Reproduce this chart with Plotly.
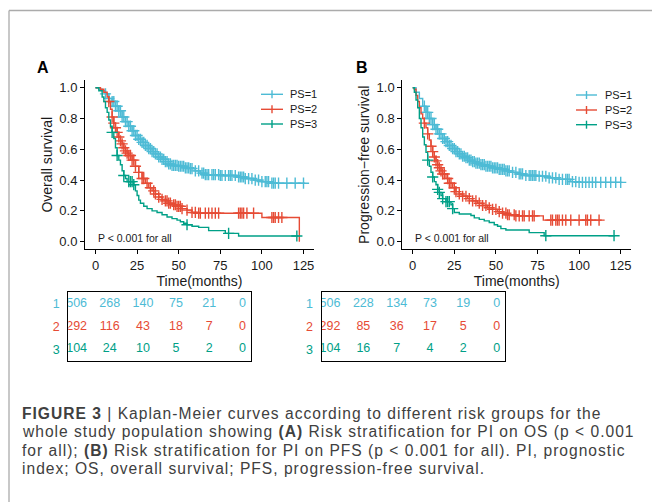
import numpy as np
import plotly.graph_objects as go

W, H = 652, 502
FONT = "Liberation Sans, Arial, sans-serif"

groups = ["PS=1", "PS=2", "PS=3"]
colors = ["#4DBBD5", "#E64B35", "#00A087"]

# ---- Panel A: overall survival (step breakpoints) ----
osA1_t = [0, 2, 4, 6, 8, 10, 12, 14, 16, 18, 20, 22, 24, 26, 28, 30, 32, 34, 36, 38, 40, 42, 44, 46, 50, 54, 57, 60, 63, 66, 75, 85, 90, 95, 100, 105, 126]
osA1_s = [1.0, 0.99, 0.98, 0.96, 0.93, 0.91, 0.88, 0.85, 0.81, 0.78, 0.75, 0.72, 0.69, 0.665, 0.645, 0.625, 0.605, 0.585, 0.57, 0.55, 0.535, 0.52, 0.505, 0.495, 0.49, 0.48, 0.475, 0.46, 0.445, 0.435, 0.43, 0.42, 0.41, 0.40, 0.39, 0.38, 0.38]
osA2_t = [0, 3, 5, 7, 8, 9, 10, 11, 12, 13, 14, 15, 16, 17, 18, 19, 20, 22, 24, 26, 28, 30, 32, 34, 36, 38, 40, 42, 44, 46, 49, 52, 55, 58, 62, 100, 122.5]
osA2_s = [1.0, 0.99, 0.97, 0.94, 0.91, 0.86, 0.81, 0.77, 0.74, 0.71, 0.68, 0.655, 0.635, 0.61, 0.59, 0.575, 0.56, 0.53, 0.49, 0.45, 0.41, 0.38, 0.35, 0.33, 0.31, 0.29, 0.275, 0.265, 0.25, 0.24, 0.23, 0.215, 0.205, 0.19, 0.185, 0.157, 0.0]
osA3_t = [0, 2, 4, 5, 6, 7, 8, 9, 10, 11, 12, 13, 14, 15, 16, 17, 18, 19, 23, 24, 25, 26, 27, 29, 31, 34, 37, 40, 43, 46, 49, 51, 53, 55, 58, 62, 68, 78, 86, 122]
osA3_s = [1.0, 0.98, 0.94, 0.91, 0.87, 0.84, 0.79, 0.75, 0.71, 0.67, 0.61, 0.56, 0.53, 0.50, 0.46, 0.43, 0.41, 0.39, 0.37, 0.33, 0.30, 0.27, 0.25, 0.23, 0.215, 0.20, 0.19, 0.175, 0.16, 0.15, 0.14, 0.13, 0.12, 0.11, 0.10, 0.093, 0.072, 0.054, 0.037, 0.037]

osA1_cens = [6, 8, 10, 11, 12, 13, 14, 15, 16, 17, 18, 19, 20, 21, 22, 23, 24, 25, 26, 27, 28, 29, 30, 31, 32, 33, 34, 35, 36, 37, 38, 39, 40, 41, 42, 43, 44, 45, 46, 47, 48, 49, 50, 51, 52, 53, 54, 55, 56, 57, 58, 60, 62, 64, 65, 66, 67, 68, 70, 71, 72, 74, 75, 76, 78, 80, 81, 82, 84, 86, 87, 88, 89, 90, 92, 94, 96, 98, 100, 102, 103, 104, 106, 107, 108, 110, 115, 120, 125]
osA2_cens = [8, 10, 11, 12, 13, 14, 15, 16, 17, 18, 19, 20, 21, 22, 23, 24, 26, 28, 29, 31, 33, 35, 36, 38, 40, 42, 43, 44, 45, 47, 48, 49, 50, 51, 52, 55, 58, 60, 62, 63, 66, 68, 70, 72, 74, 86, 87, 88, 89, 91, 95, 106, 107, 108, 110, 112]
osA3_cens = [10, 13, 17, 20, 21, 22, 23, 55, 80, 121]

# ---- Panel B: progression-free survival ----
pfsB1_t = [0, 2, 4, 6, 8, 10, 12, 14, 16, 18, 20, 22, 24, 26, 28, 30, 32, 34, 36, 38, 41, 44, 48, 52, 56, 60, 64, 68, 75, 82, 88, 95, 100, 126]
pfsB1_s = [1.0, 0.97, 0.93, 0.88, 0.84, 0.80, 0.76, 0.73, 0.70, 0.67, 0.65, 0.625, 0.605, 0.585, 0.57, 0.555, 0.545, 0.53, 0.52, 0.51, 0.50, 0.49, 0.48, 0.47, 0.46, 0.45, 0.44, 0.43, 0.425, 0.415, 0.405, 0.39, 0.385, 0.385]
pfsB2_t = [0, 1, 2, 3, 4, 5, 6, 7, 8, 9, 10, 11, 12, 13, 14, 15, 16, 17, 18, 20, 22, 24, 26, 28, 30, 33, 36, 39, 42, 45, 48, 51, 54, 57, 62, 78.5, 113.6]
pfsB2_s = [1.0, 0.99, 0.95, 0.91, 0.87, 0.83, 0.80, 0.77, 0.74, 0.70, 0.66, 0.62, 0.585, 0.55, 0.525, 0.50, 0.48, 0.46, 0.44, 0.41, 0.38, 0.35, 0.325, 0.31, 0.295, 0.28, 0.265, 0.25, 0.235, 0.22, 0.21, 0.195, 0.185, 0.175, 0.168, 0.14, 0.14]
pfsB3_t = [0, 1, 2, 3, 4, 5, 6, 7, 8, 9, 10, 11, 12, 13, 14, 15, 16, 17, 18, 20, 23, 24, 25, 28, 35, 37, 40, 43, 46, 49, 51, 53, 56, 70, 79, 121.6]
pfsB3_s = [1.0, 0.97, 0.92, 0.87, 0.80, 0.74, 0.68, 0.63, 0.58, 0.53, 0.49, 0.45, 0.42, 0.39, 0.37, 0.34, 0.32, 0.30, 0.28, 0.26, 0.24, 0.215, 0.19, 0.18, 0.17, 0.155, 0.145, 0.135, 0.125, 0.11, 0.10, 0.085, 0.076, 0.059, 0.039, 0.039]

pfsB1_cens = [7, 8, 9, 10, 11, 12, 13, 14, 15, 16, 17, 18, 19, 20, 21, 22, 23, 24, 25, 26, 27, 28, 29, 30, 31, 32, 33, 34, 35, 36, 37, 38, 39, 40, 41, 42, 43, 44, 45, 46, 47, 48, 49, 50, 51, 52, 53, 54, 55, 56, 57, 58, 60, 62, 64, 65, 66, 68, 70, 71, 72, 73, 74, 76, 78, 80, 82, 84, 86, 88, 90, 92, 93, 94, 96, 98, 100, 102, 104, 106, 108, 110, 113, 116, 119, 122, 125]
pfsB2_cens = [7, 9, 11, 12, 13, 14, 15, 16, 17, 18, 19, 21, 22, 23, 25, 26, 28, 30, 32, 34, 36, 38, 40, 42, 44, 46, 48, 50, 52, 54, 56, 57, 58, 61, 62, 64, 66, 67, 70, 72, 73, 83, 84, 86, 87, 88, 90, 92, 95, 100, 104, 105, 107, 112]
pfsB3_cens = [9, 12, 15, 16, 18, 20, 21, 22, 24, 80, 121]

# ---- Risk tables ----
risk_times = [0, 25, 50, 75, 100, 125]
riskA = [[506, 268, 140, 75, 21, 0], [292, 116, 43, 18, 7, 0], [104, 24, 10, 5, 2, 0]]
riskB = [[506, 228, 134, 73, 19, 0], [292, 85, 36, 17, 5, 0], [104, 16, 7, 4, 2, 0]]
row_labels = ["1", "2", "3"]

x_ticks = [0, 25, 50, 75, 100, 125]
y_ticks = [0.0, 0.2, 0.4, 0.6, 0.8, 1.0]


def px(x):
    return x / W


def py(y):
    return 1 - y / H


def step_at(ts, ss, c):
    i = np.searchsorted(np.array(ts), c, side="right") - 1
    return ss[max(i, 0)]


fig = go.Figure()

panels = [
    ("x", "y", [(osA1_t, osA1_s, osA1_cens), (osA2_t, osA2_s, osA2_cens), (osA3_t, osA3_s, osA3_cens)]),
    ("x2", "y2", [(pfsB1_t, pfsB1_s, pfsB1_cens), (pfsB2_t, pfsB2_s, pfsB2_cens), (pfsB3_t, pfsB3_s, pfsB3_cens)]),
]
for xa, ya, series in panels:
    for k, (ts, ss, cens) in enumerate(series):
        fig.add_trace(go.Scatter(x=ts, y=ss, mode="lines", line=dict(color=colors[k], width=1.4, shape="hv"),
                                 xaxis=xa, yaxis=ya, showlegend=False, hoverinfo="skip"))
        cy = [step_at(ts, ss, c) for c in cens]
        fig.add_trace(go.Scatter(x=cens, y=cy, mode="markers",
                                 marker=dict(symbol="cross-thin", size=8, color=colors[k],
                                             line=dict(color=colors[k], width=1.4)),
                                 xaxis=xa, yaxis=ya, showlegend=False, hoverinfo="skip", cliponaxis=False))

# risk table text traces
for xa, ya, table in [("x3", "y3", riskA), ("x4", "y4", riskB)]:
    for k, row in enumerate(table):
        fig.add_trace(go.Scatter(x=risk_times, y=[k + 1] * len(risk_times), mode="text",
                                 text=[str(v) for v in row],
                                 textfont=dict(family=FONT, size=12.5, color=colors[k]),
                                 xaxis=xa, yaxis=ya, showlegend=False, hoverinfo="skip"))

# geometry (pixels)
A_x0, A_x1 = 85.1, 313.9
B_x0, B_x1 = 402.3, 631.1
P_y0, P_y1 = 80.0, 249.4
TA_x0, TA_x1 = 68.3, 250.7
TB_x0, TB_x1 = 321.7, 505.0
T_y0, T_y1 = 292.3, 360.7

tickfont = dict(family=FONT, size=13, color="#1a1a1a")
titlefont = dict(family=FONT, size=14, color="#1a1a1a")

def plot_x(dom, anchor):
    return dict(domain=[px(dom[0]), px(dom[1])], range=[-6.25, 131.25], tickvals=x_ticks,
                showline=True, linecolor="black", linewidth=1.1, ticks="outside", ticklen=4,
                tickwidth=1.1, tickcolor="black", showgrid=False, zeroline=False, tickfont=tickfont,
                title=dict(text="Time(months)", font=titlefont, standoff=3), anchor=anchor)

def plot_y(title, anchor):
    return dict(domain=[py(P_y1), py(P_y0)], range=[-0.05, 1.05], tickvals=y_ticks,
                ticktext=[f"{v:.1f}" for v in y_ticks],
                showline=True, linecolor="black", linewidth=1.1, ticks="outside", ticklen=4,
                tickwidth=1.1, tickcolor="black", showgrid=False, zeroline=False, tickfont=tickfont,
                title=dict(text=title, font=titlefont, standoff=3), anchor=anchor)

def table_x(dom, anchor):
    return dict(domain=[px(dom[0]), px(dom[1])], range=[-6.25, 131.25], showline=True, mirror=True,
                linecolor="black", linewidth=1.3, showticklabels=False, ticks="", showgrid=False,
                zeroline=False, anchor=anchor)

def table_y(anchor):
    return dict(domain=[py(T_y1), py(T_y0)], range=[3.5, 0.5], tickvals=[1, 2, 3],
                ticktext=[f"<span style='color:{colors[i]}'>{row_labels[i]}</span>" for i in range(3)],
                showline=True, mirror=True, linecolor="black", linewidth=1.3, ticks="",
                showgrid=False, zeroline=False, tickfont=dict(family=FONT, size=12.5, color="#333"),
                anchor=anchor, ticklabelstandoff=5)

fig.update_layout(
    width=W, height=H, margin=dict(l=0, r=0, t=0, b=0),
    paper_bgcolor="white", plot_bgcolor="white", showlegend=False,
    xaxis=plot_x((A_x0, A_x1), "y"), yaxis=plot_y("Overall survival", "x"),
    xaxis2=plot_x((B_x0, B_x1), "y2"), yaxis2=plot_y("Progression\u2212free survival", "x2"),
    xaxis3=table_x((TA_x0, TA_x1), "y3"), yaxis3=table_y("x3"),
    xaxis4=table_x((TB_x0, TB_x1), "y4"), yaxis4=table_y("x4"),
)

shapes = []
ann = []
# frame lines
shapes.append(dict(type="line", xref="paper", yref="paper", x0=px(9), x1=px(W), y0=py(10.5), y1=py(10.5),
                   line=dict(color="#ababab", width=1.3)))
shapes.append(dict(type="line", xref="paper", yref="paper", x0=px(9), x1=px(9), y0=py(10.5), y1=py(H),
                   line=dict(color="#ababab", width=1.3)))

# legends
for lx0, lx1, ltx, ly in [(261, 283, 288, [94.3, 109.3, 124.0]), (576, 597, 603, [95.0, 110.0, 124.7])]:
    for k in range(3):
        shapes.append(dict(type="line", xref="paper", yref="paper", x0=px(lx0), x1=px(lx1),
                           y0=py(ly[k]), y1=py(ly[k]), line=dict(color=colors[k], width=1.4)))
        xm = (lx0 + lx1) / 2
        shapes.append(dict(type="line", xref="paper", yref="paper", x0=px(xm), x1=px(xm),
                           y0=py(ly[k] - 4), y1=py(ly[k] + 4), line=dict(color=colors[k], width=1.4)))
        ann.append(dict(text=groups[k], xref="paper", yref="paper", x=px(ltx), y=py(ly[k]),
                        xanchor="left", yanchor="middle", showarrow=False,
                        font=dict(family=FONT, size=11, color="#1a1a1a")))

# p-value notes
for xr, yr in [("x", "y"), ("x2", "y2")]:
    ann.append(dict(text="P < 0.001 for all", xref=xr, yref=yr, x=0, y=0.024, xanchor="left",
                    yanchor="middle", showarrow=False, font=dict(family=FONT, size=10.5, color="#1a1a1a")))

# panel letters
for lab, lx in [("A", 43), ("B", 362)]:
    ann.append(dict(text=f"<b>{lab}</b>", xref="paper", yref="paper", x=px(lx), y=py(67.5),
                    xanchor="center", yanchor="middle", showarrow=False,
                    font=dict(family=FONT, size=16, color="black")))

# caption
cap_lines = [
    "<b>FIGURE 3</b> | Kaplan-Meier curves according to different risk groups for the",
    "whole study population showing <b>(A)</b> Risk stratification for PI on OS (p &lt; 0.001",
    "for all); <b>(B)</b> Risk stratification for PI on PFS (p &lt; 0.001 for all). PI, prognostic",
    "index; OS, overall survival; PFS, progression-free survival.",
]
cap_y = [413.5, 431.8, 450.0, 468.2]
for t, yy in zip(cap_lines, cap_y):
    ann.append(dict(text=f"<span style='letter-spacing:1px'>{t}</span>", xref="paper", yref="paper",
                    x=px(20), y=py(yy), xanchor="left", yanchor="middle", showarrow=False,
                    font=dict(family=FONT, size=15.6, color="#404040")))

fig.update_layout(shapes=shapes, annotations=ann)
fig.write_html("out.html")
